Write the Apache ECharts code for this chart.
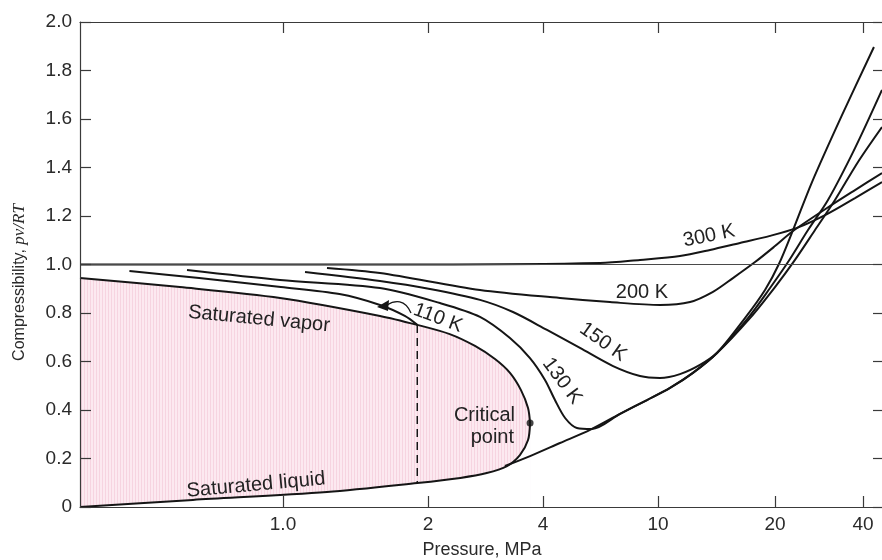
<!DOCTYPE html>
<html><head><meta charset="utf-8">
<script src="https://cdn.jsdelivr.net/npm/echarts@6/dist/echarts.min.js"></script>
<style>html,body{margin:0;padding:0;background:#fff}#c{width:882px;height:560px}</style>
</head><body><div id="c"></div>
<script>
// ---- Axis tick values (printed, non-uniform pressure scale of the original chart) ----
const pressureTicks = [1, 2, 4, 10, 20, 40];
const pressureTickLabels = ['1.0', '2', '4', '10', '20', '40'];
// printed scale: pressure (MPa) -> distance along the axis (axis units)
const scaleStops = [[0.379, 0], [1, 203], [2, 348], [4, 463], [10, 578], [20, 695], [40, 783]];
const X_MAX = 804;

// ---- Data, [pressure MPa, Z = pv/RT] ----
const saturatedVapor = [[0.379,0.944],[0.611,0.907],[0.986,0.862],[1.59,0.788],[1.9,0.751],[2.28,0.713],[2.655,0.664],[2.995,0.610],[3.278,0.553],[3.503,0.482],[3.655,0.408],[3.70,0.346]];
const saturatedLiquid = [[0.379,0.0],[0.65,0.029],[1.234,0.062],[1.9,0.099],[2.43,0.120],[2.85,0.140],[3.22,0.169],[3.48,0.214],[3.655,0.276],[3.70,0.346]];
const iso110Vapor = [[0.48,0.973],[0.67,0.944],[0.99,0.907],[1.31,0.878],[1.59,0.833],[1.79,0.788],[1.9,0.751]];
const iso110TwoPhase = [[1.9,0.751],[1.9,0.099]];
const iso110Liquid = [[3.18,0.169],[3.70,0.210],[4.58,0.264],[5.82,0.318],[7.39,0.384],[9.16,0.441],[10.74,0.491],[12.30,0.553],[14.18,0.635],[16.74,0.779],[18.85,0.895],[20.63,1.002],[23.05,1.142],[26.77,1.340],[33.9,1.616],[43.6,1.897]];
const iso130 = [[0.632,0.977],[0.986,0.936],[1.59,0.903],[2.15,0.841],[2.736,0.784],[3.278,0.697],[3.698,0.614],[4.064,0.524],[4.40,0.441],[4.77,0.367],[5.24,0.326],[5.91,0.322],[7.39,0.384],[9.16,0.441],[10.74,0.491],[12.30,0.553],[14.18,0.635],[17.04,0.779],[19.42,0.903],[22.16,1.010],[25.94,1.142],[30.36,1.266],[37.56,1.480],[46.46,1.720]];
const iso150 = [[1.111,0.969],[1.59,0.932],[2.024,0.899],[2.736,0.854],[3.338,0.804],[4.13,0.730],[5.37,0.656],[6.99,0.581],[8.66,0.540],[10.12,0.532],[11.39,0.548],[12.82,0.586],[14.18,0.635],[17.25,0.779],[20.0,0.907],[23.41,1.019],[27.41,1.142],[32.08,1.266],[38.46,1.423],[46.46,1.567]];
const iso200 = [[1.234,0.986],[1.59,0.965],[2.736,0.895],[4.58,0.862],[6.82,0.845],[10.12,0.833],[12.09,0.845],[13.85,0.887],[15.59,0.944],[17.77,1.010],[20.0,1.076],[23.05,1.138],[30.13,1.233],[37.56,1.307],[46.46,1.377]];
const iso300 = [[0.379,1.0],[2.0,1.0],[6.30,1.006],[8.66,1.019],[11.39,1.035],[13.61,1.060],[16.25,1.089],[19.42,1.118],[23.78,1.151],[30.13,1.208],[37.56,1.274],[46.46,1.340]];
const criticalPoint = [[3.70, 0.346]];

function toAxis(p) {
  const lp = Math.log(p);
  let i = 0;
  while (i < scaleStops.length - 2 && p > scaleStops[i + 1][0]) i++;
  const a = scaleStops[i], b = scaleStops[i + 1];
  return a[1] + (lp - Math.log(a[0])) / (Math.log(b[0]) - Math.log(a[0])) * (b[1] - a[1]);
}
const conv = arr => arr.map(d => [toAxis(d[0]), d[1]]);
const tickU = pressureTicks.map(toAxis);
function tickLabel(v) {
  for (let i = 0; i < tickU.length; i++) if (Math.abs(tickU[i] - v) < 1e-6) return pressureTickLabels[i];
  return '';
}

function stripePattern() {
  const c = document.createElement('canvas'); c.width = 3; c.height = 4;
  const g = c.getContext('2d');
  g.fillStyle = '#fce9f0'; g.fillRect(0, 0, 3, 4);
  g.fillStyle = '#f6d4e0'; g.fillRect(0, 0, 1, 4);
  return { image: c, repeat: 'repeat' };
}

const FONT = '"Liberation Sans", Arial, Helvetica, sans-serif';
const AX = '#3a3a3a';
const INK = '#151515';

const chart = echarts.init(document.getElementById('c'));

const baseX = {
  type: 'value', min: 0, max: X_MAX, z: 5,
  axisLine: { show: true, onZero: false, lineStyle: { color: AX, width: 1.2 } },
  splitLine: { show: false },
  axisTick: { show: true, inside: true, length: 11, customValues: tickU, lineStyle: { color: AX, width: 1.2 } },
  axisLabel: { show: true, customValues: tickU, formatter: tickLabel, fontFamily: FONT, fontSize: 19, color: '#2a2a2a', margin: 8 }
};
const baseY = {
  type: 'value', min: 0, max: 2, interval: 0.2, z: 5,
  axisLine: { show: true, onZero: false, lineStyle: { color: AX, width: 1.2 } },
  splitLine: { show: false },
  axisTick: { show: true, inside: true, length: 11, lineStyle: { color: AX, width: 1.2 } },
  axisLabel: { show: true, fontFamily: FONT, fontSize: 19, color: '#2a2a2a', margin: 8,
    formatter: v => (v === 0 ? '0' : v.toFixed(1)) }
};

function lineSeries(name, data, extra) {
  return Object.assign({
    name, type: 'line', data: conv(data), smooth: 0.3, symbol: 'none', z: 3, silent: true,
    lineStyle: { color: INK, width: 2 }
  }, extra || {});
}

chart.setOption({
  animation: false,
  backgroundColor: '#fff',
  grid: { left: 80, right: -2, top: 22, bottom: 53, containLabel: false, outerBoundsMode: 'none' },
  xAxis: [
    Object.assign({}, baseX, {
      position: 'bottom', name: 'Pressure, MPa', nameLocation: 'middle', nameGap: 34,
      nameTextStyle: { fontFamily: FONT, fontSize: 18, color: '#2a2a2a' }
    }),
    Object.assign({}, baseX, { position: 'top', axisLabel: Object.assign({}, baseX.axisLabel, { show: false }) })
  ],
  yAxis: [
    Object.assign({}, baseY, {
      position: 'left', name: '{a|Compressibility, }{b|pv/RT}', nameLocation: 'middle', nameGap: 52, nameRotate: 90,
      nameTextStyle: {
        padding: [0, 36, 0, 0],
        rich: {
          a: { fontFamily: FONT, fontSize: 16, color: '#2a2a2a' },
          b: { fontFamily: '"Liberation Serif", "Times New Roman", serif', fontStyle: 'italic', fontSize: 17, color: '#2a2a2a' }
        }
      }
    }),
    Object.assign({}, baseY, { position: 'right', axisLabel: Object.assign({}, baseY.axisLabel, { show: false }) })
  ],
  series: [
    lineSeries('dome-fill', saturatedVapor, { z: 1, lineStyle: { width: 0 }, areaStyle: { color: stripePattern(), opacity: 1 } }),
    lineSeries('dome-mask', saturatedLiquid, { z: 2, lineStyle: { width: 0 }, areaStyle: { color: '#ffffff', opacity: 1 } }),
    lineSeries('Saturated vapor', saturatedVapor),
    lineSeries('Saturated liquid', saturatedLiquid),
    lineSeries('110 K', iso110Vapor),
    lineSeries('110 K two-phase', iso110TwoPhase, { smooth: false, lineStyle: { color: INK, width: 1.5, type: [8, 5] } }),
    lineSeries('110 K liquid', iso110Liquid),
    lineSeries('130 K', iso130),
    lineSeries('150 K', iso150),
    lineSeries('200 K', iso200),
    lineSeries('300 K', iso300, {
      markLine: { silent: true, symbol: ['none', 'none'], label: { show: false },
        lineStyle: { color: '#4a4a4a', width: 1.2, type: 'solid' }, data: [{ yAxis: 1 }] }
    }),
    { name: 'Critical point', type: 'scatter', data: conv(criticalPoint), symbol: 'circle', symbolSize: 7,
      itemStyle: { color: INK }, z: 4, silent: true }
  ],
  graphic: [
    { type: 'text', x: 259, y: 319, rotation: -0.096, z: 10, style: { text: 'Saturated vapor', font: '20px ' + FONT, fill: '#222', align: 'center', verticalAlign: 'middle' } },
    { type: 'text', x: 256, y: 485, rotation: 0.09, z: 10, style: { text: 'Saturated liquid', font: '20px ' + FONT, fill: '#222', align: 'center', verticalAlign: 'middle' } },
    { type: 'text', x: 438, y: 318, rotation: -0.36, z: 10, style: { text: '110 K', font: '20px ' + FONT, fill: '#222', align: 'center', verticalAlign: 'middle' } },
    { type: 'text', x: 562, y: 381, rotation: -0.93, z: 10, style: { text: '130 K', font: '20px ' + FONT, fill: '#222', align: 'center', verticalAlign: 'middle' } },
    { type: 'text', x: 603, y: 342, rotation: -0.62, z: 10, style: { text: '150 K', font: '20px ' + FONT, fill: '#222', align: 'center', verticalAlign: 'middle' } },
    { type: 'text', x: 642, y: 292, rotation: 0, z: 10, style: { text: '200 K', font: '20px ' + FONT, fill: '#222', align: 'center', verticalAlign: 'middle' } },
    { type: 'text', x: 709, y: 236, rotation: 0.2, z: 10, style: { text: '300 K', font: '20px ' + FONT, fill: '#222', align: 'center', verticalAlign: 'middle' } },
    { type: 'text', x: 515, y: 415, z: 10, style: { text: 'Critical', font: '20px ' + FONT, fill: '#222', align: 'right', verticalAlign: 'middle' } },
    { type: 'text', x: 514, y: 437, z: 10, style: { text: 'point', font: '20px ' + FONT, fill: '#222', align: 'right', verticalAlign: 'middle' } },
    { type: 'bezierCurve', z: 10, shape: { x1: 411, y1: 313, x2: 387, y2: 305, cpx1: 405, cpy1: 299, cpx2: 395, cpy2: 300 }, style: { stroke: INK, lineWidth: 1.3, fill: null } },
    { type: 'polygon', z: 10, shape: { points: [[377, 307], [389, 300], [388, 311]] }, style: { fill: INK } }
  ]
});
</script>
</body></html>
